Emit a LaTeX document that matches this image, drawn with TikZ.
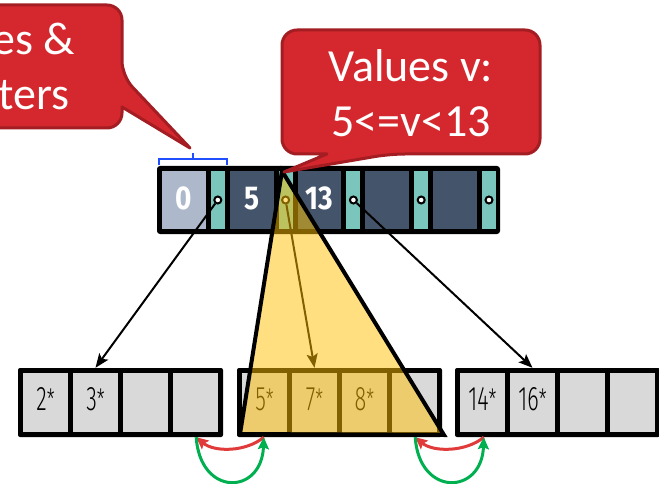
\documentclass[tikz,border=0pt]{standalone}
\usepackage{fontspec}
\setmainfont{Carlito}
\newfontfamily\keyfont[FakeStretch=0.85]{Fira Sans}
\newfontfamily\leaffont[FakeStretch=0.64]{Fira Sans Light}
\usetikzlibrary{arrows.meta,calc}

\definecolor{navy}{HTML}{44546A}
\definecolor{navylight}{HTML}{ADB9CA}
\definecolor{ptrteal}{HTML}{7AC6BD}
\definecolor{leafgrey}{HTML}{D9D9D9}
\definecolor{callred}{HTML}{D5282E}
\definecolor{callrim}{HTML}{A31D22}
\definecolor{fwdgreen}{HTML}{00B050}
\definecolor{backred}{HTML}{E03A3A}
\definecolor{gold}{HTML}{FFC000}
\definecolor{bracketblue}{HTML}{1F4FFF}

% small raised star used after leaf keys
\newcommand\leafstar{\raisebox{1pt}{\fontsize{28}{28}\selectfont *}}

\begin{document}
\begin{tikzpicture}[x=1pt,y=-1pt,
  nodebox/.style={fill=black, rounded corners=3pt, inner sep=0pt},
  keycell/.style={minimum width=43.8pt, minimum height=58pt, inner sep=0pt, fill=navy,
    text=white, text depth=3pt, font=\keyfont\bfseries\fontsize{33}{38}\selectfont},
  ptrcell/.style={minimum width=14pt, minimum height=58pt, inner sep=0pt, fill=ptrteal},
  ptrdot/.style={circle, draw=black, line width=2pt, fill=white, minimum size=7pt, inner sep=0pt},
  leafbox/.style={fill=black, rounded corners=2pt, minimum width=205pt, minimum height=69pt, inner sep=0pt},
  leafcell/.style={minimum width=45pt, minimum height=59pt, inner sep=0pt, fill=leafgrey,
    text depth=7pt, font=\leaffont\fontsize{34}{40}\selectfont},
  childptr/.style={draw=black, line width=2pt, -{Stealth[length=14pt,width=11pt,inset=3pt]}},
  siblink/.style={line width=3pt, -{Stealth[length=12pt,width=11pt,inset=2pt]}},
  keyrange/.style={fill=gold, fill opacity=0.5, draw=black, line width=4pt, line join=miter},
  calloutbox/.style={fill=callred, draw=callrim, line width=3pt, line join=round},
  callouttext/.style={text=white, font=\fontsize{46}{55}\selectfont, inner sep=0pt},
]
\useasboundingbox (0,0) rectangle (659,484);
\clip (0,0) rectangle (659,484);

% ---- inner node: keys and child pointers ----
\node[nodebox, minimum width=343pt, minimum height=68pt] (inner) at (328.5,200) {};
\node[keycell, fill=navylight] (k0) at (183.9,200) {0};
\node[keycell] (k1) at (251.7,200) {5};
\node[keycell] (k2) at (319.5,200) {13};
\node[keycell] (k3) at (387.3,200) {};
\node[keycell] (k4) at (455.1,200) {};
\foreach \i/\x in {0/217.8, 1/285.6, 2/353.4, 3/421.2, 4/489.0} {
  \node[ptrcell] (p\i) at (\x,200) {};
  \node[ptrdot] (d\i) at (p\i.center) {};
}

% ---- leaf nodes ----
\node[leafbox] (leafA) at (120.5,402.5) {};
\node[leafbox] (leafB) at (339.5,402.5) {};
\node[leafbox] (leafC) at (557.5,402.5) {};
\foreach \leaf/\x/\ta/\tb/\tc in {a/45.5/2\leafstar/3\leafstar/, b/264.5/5\leafstar/7\leafstar/8\leafstar,
    c/482.5/14\leafstar/16\leafstar/} {
  \node[leafcell] (\leaf1) at (\x,402.5) {\ta};
  \node[leafcell] (\leaf2) at (\x+50,402.5) {\tb};
  \node[leafcell] (\leaf3) at (\x+100,402.5) {\tc};
  \node[leafcell] (\leaf4) at (\x+150,402.5) {};
}

% ---- child pointers ----
\draw[childptr] (d0) -- ([yshift=5pt]a2.north);
\draw[childptr] (d1) -- ([yshift=5pt]b2.north);
\draw[childptr] (d2) -- ([yshift=5pt]c2.north);

% ---- sibling links between leaves ----
\coordinate (A-next) at ([xshift=-27pt]leafA.south east);
\coordinate (B-prev) at ([xshift=27pt]leafB.south west);
\coordinate (B-next) at ([xshift=-27pt]leafB.south east);
\coordinate (C-prev) at ([xshift=29pt]leafC.south west);
\draw[siblink, backred] (B-prev) .. controls +(-18,15) and +(18,15) .. (A-next);
\draw[siblink, fwdgreen] (A-next) .. controls +(4,60) and +(-2,58) .. (B-prev);
\draw[siblink, backred] (C-prev) .. controls +(-18,15) and +(18,15) .. (B-next);
\draw[siblink, fwdgreen] (B-next) .. controls +(4,60) and +(-2,58) .. (C-prev);

% ---- key range covered by the pointer after 5 ----
\coordinate (apex) at (282,171);
\coordinate (baseL) at (240,434);
\coordinate (baseR) at (444,435);
\draw[keyrange] (apex) -- (baseL) -- (baseR) -- cycle;

% ---- bracket over one key/pointer pair ----
\draw[bracketblue, line width=1.5pt] (159,165) -- (159,159) -- (227,159) -- (227,165)
  (193,159) -- (193,153);

% ---- callouts ----
\path[calloutbox] (-5,5) [rounded corners=15pt] -- (122,5) -- (122,76) [sharp corners] -- (190,148)
  -- (122,107) [rounded corners=15pt] -- (122,128) -- (-134,128) -- (-134,5) -- cycle;
\node[callouttext, anchor=base east] (vp1) at (75,55) {es \&};
\node[callouttext, anchor=base east] (vp2) at (70,110) {ters};

\path[calloutbox] (411,30) [rounded corners=15pt] -- (540,30) -- (540,154) -- (390,154) [sharp corners]
  -- (284,172) -- (327,154) [rounded corners=15pt] -- (282,154) -- (282,30) -- cycle;
\node[callouttext, anchor=base] (vr1) at (411,82) {Values v:};
\node[callouttext, anchor=base] (vr2) at (411,137) {5<=v<13};
\end{tikzpicture}
\end{document}
